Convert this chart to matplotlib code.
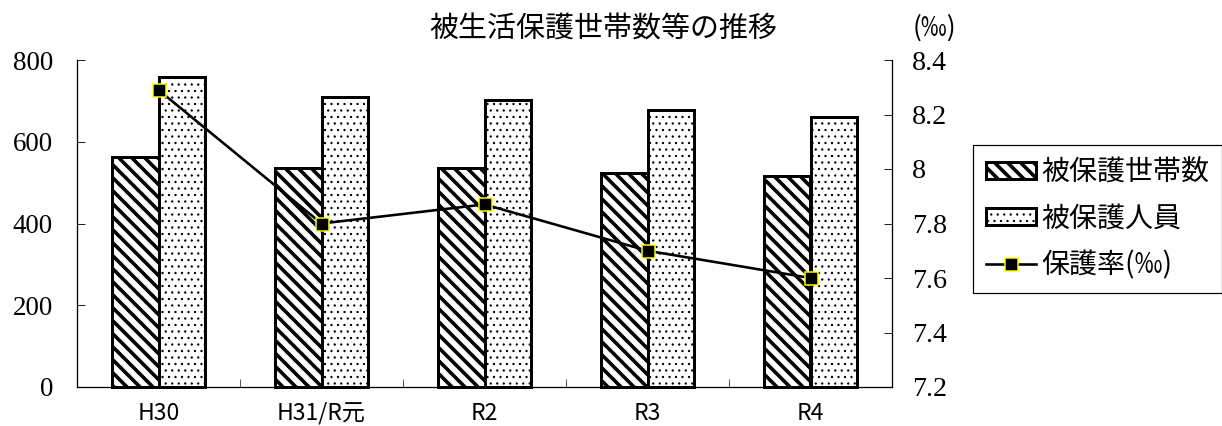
import matplotlib
matplotlib.use("Agg")
import matplotlib.pyplot as plt
import numpy as np
from matplotlib.ticker import FuncFormatter

# データ
years = ["H30", "H31/R元", "R2", "R3", "R4"]
households = [563, 535, 535, 523, 516]   # 被保護世帯数
persons = [759, 710, 702, 678, 661]      # 被保護人員
rate = [8.29, 7.80, 7.87, 7.70, 7.60]    # 保護率(‰)
left_ticks = [0, 200, 400, 600, 800]
right_ticks = [7.2, 7.4, 7.6, 7.8, 8.0, 8.2, 8.4]

DPI = 78
W, H = 1222, 426
JP = ["Noto Sans CJK JP", "DejaVu Sans"]
SERIF = ["Liberation Serif", "DejaVu Serif"]


def px(v):
    """ピクセル -> ポイント"""
    return v * 72 / DPI


def set_hatch_lw(patches, lw):
    for p in patches:
        if hasattr(p, "set_hatch_linewidth"):
            p.set_hatch_linewidth(lw)


def main() -> None:
    plt.rcParams["font.family"] = JP
    fig = plt.figure(figsize=(W / DPI, H / DPI), dpi=DPI)
    ax = fig.add_axes([77 / W, 1 - 387 / H, (892 - 77) / W, (387 - 60) / H])
    ax2 = ax.twinx()

    x = np.arange(len(years))
    bw = 0.288
    with plt.rc_context({"hatch.linewidth": px(3.6)}):
        b1 = ax.bar(x - bw / 2, households, bw, color="white", edgecolor="black",
                    hatch="\\\\", linewidth=px(3), label="被保護世帯数", clip_on=False, zorder=2)
    set_hatch_lw(b1, px(3.6))
    with plt.rc_context({"hatch.linewidth": px(1.0)}):
        b2 = ax.bar(x + bw / 2, persons, bw, color="white", edgecolor="black",
                    hatch="..", linewidth=px(3), label="被保護人員", clip_on=False, zorder=2)
    set_hatch_lw(b2, px(1.0))

    line, = ax2.plot(x, rate, color="black", lw=px(2.6), marker="s", ms=px(13),
                     mfc="black", mec="#ffff00", mew=px(1.5), label="保護率(‰)")

    # 軸
    ax.set_xlim(-0.5, len(years) - 0.5)
    ax.set_ylim(0, 800)
    ax2.set_ylim(7.2, 8.4)
    ax.set_xticks(x, labels=years, fontsize=px(23))
    ax.set_xticks(np.arange(0.5, len(years) - 0.5, 1), minor=True)
    ax.tick_params(axis="x", which="major", length=0, pad=px(15))
    ax.tick_params(axis="x", which="minor", direction="in", length=px(8))
    ax.set_yticks(left_ticks, labels=[str(t) for t in left_ticks],
                  fontsize=px(27), family=SERIF)
    ax.tick_params(axis="y", direction="in", length=px(8), pad=px(24))
    ax2.set_yticks(right_ticks)
    ax2.yaxis.set_major_formatter(FuncFormatter(lambda v, _: f"{v:.1f}".rstrip("0").rstrip(".")))
    for lab in ax2.get_yticklabels():
        lab.set_fontfamily(SERIF)
        lab.set_fontsize(px(28))
    ax2.tick_params(axis="y", direction="in", length=px(8), pad=px(20),
                    labelsize=px(28))

    for s in ("top", "right"):
        ax.spines[s].set_visible(False)
    for s in ("top", "left", "bottom"):
        ax2.spines[s].set_visible(False)
    for sp in list(ax.spines.values()) + list(ax2.spines.values()):
        sp.set_linewidth(px(1.3))

    # 凡例
    leg = fig.legend([b1, b2, line], ["被保護世帯数", "被保護人員", "保護率(‰)"],
                     loc="upper left", bbox_to_anchor=(973 / W, 1 - 145 / H),
                     fontsize=px(28), frameon=True, fancybox=False, framealpha=1,
                     edgecolor="black", borderpad=0.45, labelspacing=0.58,
                     handlelength=1.8, handleheight=0.55, handletextpad=0.2,
                     borderaxespad=0)
    leg.get_frame().set_linewidth(px(1.2))
    set_hatch_lw(leg.get_patches()[:1], px(3.6))
    set_hatch_lw(leg.get_patches()[1:], px(1.0))

    # タイトル
    fig.text(603 / W, 1 - 30 / H, "被生活保護世帯数等の推移", ha="center", va="center",
             fontsize=px(29))
    fig.text(913 / W, 1 - 28 / H, "(‰)", ha="left", va="center", fontsize=px(26))

    fig.savefig("out.png", dpi=DPI, facecolor="white")


if __name__ == "__main__":
    main()
